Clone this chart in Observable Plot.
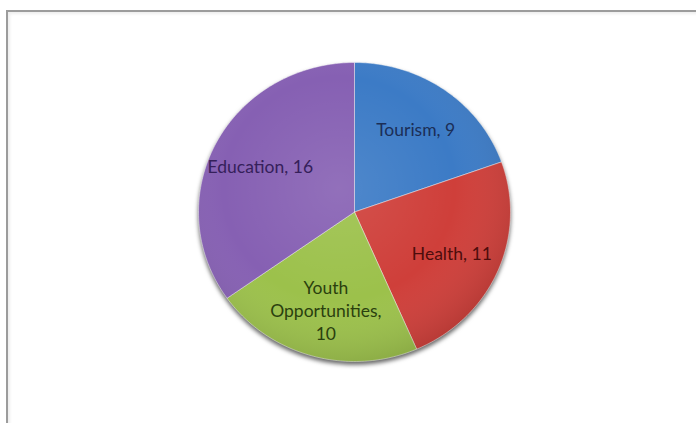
<!DOCTYPE html>
<html><head><meta charset="utf-8">
<script src="https://cdn.jsdelivr.net/npm/d3@7"></script>
<script src="https://cdn.jsdelivr.net/npm/@observablehq/plot@0.6"></script>
<style>
html,body{margin:0;padding:0;background:#fff;}
#wrap{position:relative;width:696px;height:423px;overflow:hidden;background:#fff;}
#frame{position:absolute;left:6px;top:10px;width:720px;height:440px;border-top:2px solid #9c9c9c;border-left:2px solid #9c9c9c;box-shadow:inset 2px 2px 3px rgba(0,0,0,0.07);}
#chart{position:absolute;left:0;top:0;}
#chart g.slices{filter:drop-shadow(0px 3px 2px rgba(0,0,0,0.6));}
</style></head>
<body><div id="wrap"><div id="frame"></div><div id="chart"></div></div>
<script>
const categories = ["Tourism", "Health", "Youth Opportunities", "Education"];
const values = [9, 11, 10, 16];
const labelTexts = ["Tourism, 9", "Health, 11", "Youth\nOpportunities,\n10", "Education, 16"];
const sliceColors = ["#3c7bc6", "#cf3f3a", "#9cc14b", "#8660b3"];
const textColors = ["#1b2e57", "#4d0d0c", "#2a400e", "#35205a"];

const arcs = d3.pie().sort(null).value(d => d)(values);
const poly = [];
const rim = [];
arcs.forEach((a, i) => {
  const cat = categories[i];
  poly.push({cat, x: 0, y: 0});
  const n = Math.max(2, Math.ceil((a.endAngle - a.startAngle) / (Math.PI / 180)));
  for (let k = 0; k <= n; k++) {
    const t = a.startAngle + (a.endAngle - a.startAngle) * k / n;
    poly.push({cat, x: Math.sin(t), y: Math.cos(t)});
    rim.push({x: Math.sin(t), y: Math.cos(t)});
  }
  poly.push({cat, x: 0, y: 0});
});
const labelData = arcs.map((a, i) => {
  const m = (a.startAngle + a.endAngle) / 2;
  const r = 0.68;
  return {cat: categories[i], text: labelTexts[i], color: textColors[i], x: r * Math.sin(m), y: r * Math.cos(m)};
});

const chart = Plot.plot({
  width: 696,
  height: 423,
  marginLeft: 198,
  marginRight: 186,
  marginTop: 62,
  marginBottom: 62,
  x: {domain: [-1, 1], axis: null},
  y: {domain: [-1, 1], axis: null},
  color: {domain: categories, range: sliceColors},
  style: {background: "transparent", overflow: "visible"},
  marks: [
    Plot.line(poly, {x: "x", y: "y", z: "cat", fill: "cat", stroke: "#ffffff", strokeOpacity: 0.45, strokeWidth: 1, curve: "linear", className: "slices"}),
    Plot.line(rim, {x: "x", y: "y", fill: "url(#pieShade)", stroke: "none", curve: "linear"}),
    Plot.text(labelData, {x: "x", y: "y", text: "text", fill: d => d.color, fontFamily: "Lato", fontSize: 17.5, lineHeight: 1.3})
  ]
});
const defs = document.createElementNS("http://www.w3.org/2000/svg", "defs");
defs.innerHTML = `<radialGradient id="pieShade" cx="0.45" cy="0.42" r="0.62">
  <stop offset="0" stop-color="#ffffff" stop-opacity="0.10"/>
  <stop offset="0.6" stop-color="#ffffff" stop-opacity="0"/>
  <stop offset="1" stop-color="#000000" stop-opacity="0.14"/>
</radialGradient>`;
chart.insertBefore(defs, chart.firstChild);
document.getElementById("chart").appendChild(chart);
</script>
</body></html>
